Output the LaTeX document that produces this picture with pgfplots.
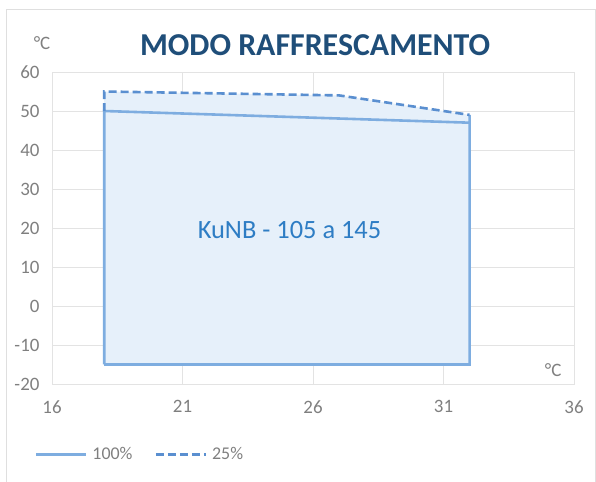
\documentclass[border=0pt]{standalone}
\usepackage{fontspec}
\setmainfont{Carlito}
\usepackage{pgfplots}
\pgfplotsset{compat=1.18}
\definecolor{titleblue}{HTML}{1F4E79}
\definecolor{lineblue}{HTML}{7EADE0}
\definecolor{dashblue}{HTML}{5A8FD0}
\definecolor{fillblue}{HTML}{E6F0FA}
\definecolor{txtblue}{HTML}{2E7DC4}
\definecolor{ticktxt}{HTML}{7F7F7F}
\definecolor{gridc}{HTML}{E3E3E3}
\begin{document}
\begin{tikzpicture}[x=1bp,y=1bp]
\useasboundingbox (-52,-98) rectangle (544,384);
\draw[gray!25,line width=1bp] (-45,-110) rectangle (543,374);
\begin{axis}[
  scale only axis, width=522bp, height=312bp,
  at={(0,0)}, anchor=south west,
  xmin=16, xmax=36, ymin=-20, ymax=60,
  xtick={16,21,26,31,36}, ytick={-20,-10,0,10,20,30,40,50,60},
  major tick length=0pt,
  grid=major, grid style={draw=gridc, line width=0.8bp},
  axis line style={draw=gridc, line width=0.8bp},
  /pgf/number format/assume math mode=true,
  ticklabel style={font=\fontsize{19}{22}\selectfont, text=ticktxt},
  xticklabel style={yshift=-13bp},
  yticklabel style={xshift=-9bp},
  clip=false,
  legend columns=2,
  legend style={at={(rel axis cs:-0.039,-0.225)}, anchor=west, draw=none, fill=none,
    font=\fontsize{18}{20}\selectfont\color{ticktxt},
    /tikz/every even column/.append style={column sep=20bp},
    /tikz/every odd column/.append style={column sep=-2bp}},
  legend image code/.code={\draw[#1] (0bp,0bp) -- (50bp,0bp);},
  legend cell align=left,
]
\addplot[draw=none, fill=fillblue, forget plot] coordinates {(18,-15) (18,55) (27,54) (32,49) (32,-15)} -- cycle;
\addplot[lineblue, line width=2.6bp] coordinates {(18,-15) (18,50) (32,47) (32,49) (32,-15) (18,-15)};
\addlegendentry{\hspace{5bp}100\%}
\addplot[dashblue, line width=2.6bp, dash pattern=on 8bp off 4bp] coordinates {(18,50) (18,55) (27,54) (32,49)};
\addlegendentry{\hspace{5bp}25\%}
\node[font=\fontsize{26.5}{30}\selectfont, text=txtblue] at (axis cs:25.1,19.5) {KuNB - 105 a 145};
\node[font=\bfseries\fontsize{32}{36}\selectfont, text=titleblue] at (rel axis cs:0.504,1.087) {MODO RAFFRESCAMENTO};
\node[font=\fontsize{19}{22}\selectfont, text=ticktxt] at (rel axis cs:-0.019,1.093) {°C};
\node[font=\fontsize{19}{22}\selectfont, text=ticktxt] at (rel axis cs:0.96,0.045) {°C};
\end{axis}
\end{tikzpicture}
\end{document}
